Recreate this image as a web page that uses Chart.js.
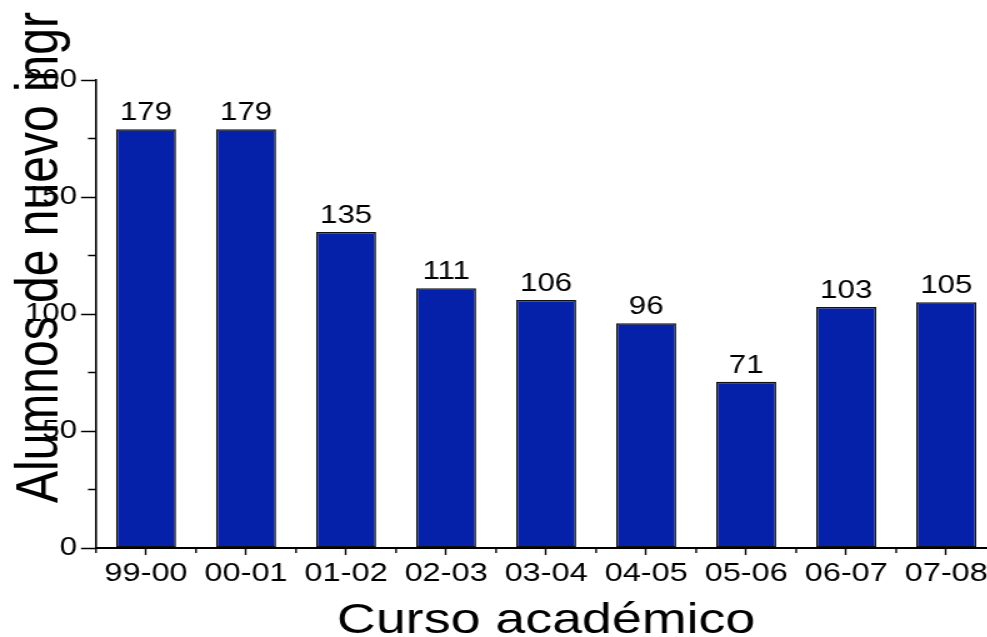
<!DOCTYPE html>
<html>
<head>
<meta charset="utf-8">
<script src="https://cdn.jsdelivr.net/npm/chart.js@4"></script>
<style>
  html, body { margin: 0; padding: 0; background: #fff; overflow: hidden; }
  #wrap { width: 797px; height: 637px; transform: scaleX(1.25); transform-origin: 0 0; }
</style>
</head>
<body>
<div id="wrap"><canvas id="chart" width="797" height="637"></canvas></div>
<script>
'use strict';

const CURSOS = ['99-00', '00-01', '01-02', '02-03', '03-04', '04-05', '05-06', '06-07', '07-08'];
const ALUMNOS = [179, 179, 135, 111, 106, 96, 71, 103, 105];
const Y_MINOR = [25, 75, 125, 175];

const FONT = '"Liberation Sans", Arial, sans-serif';

// minor ticks + value labels + y title (drawn off the library's scales/elements)
const extras = {
  id: 'extras',
  afterDraw(chart) {
    const { ctx, chartArea } = chart;
    const x = chart.scales.x, y = chart.scales.y;
    ctx.save();
    ctx.strokeStyle = '#000';
    ctx.lineWidth = 1.5;
    ctx.beginPath();
    for (const v of Y_MINOR) {
      const py = y.getPixelForValue(v);
      ctx.moveTo(chartArea.left - 6.4, py);
      ctx.lineTo(chartArea.left, py);
    }
    ctx.stroke();
    ctx.lineWidth = 1.4;
    ctx.beginPath();
    for (let i = 0; i <= CURSOS.length; i++) {
      const px = x.getPixelForValue(i - 0.5);
      ctx.moveTo(px, chartArea.bottom);
      ctx.lineTo(px, chartArea.bottom + 5);
    }
    ctx.stroke();

    ctx.fillStyle = '#000';
    ctx.font = '25px ' + FONT;
    ctx.textAlign = 'center';
    ctx.textBaseline = 'alphabetic';
    chart.getDatasetMeta(0).data.forEach((bar, i) => {
      ctx.fillText(String(ALUMNOS[i]), bar.x, bar.y - 9);
    });

    ctx.translate(45.6, chartArea.bottom - 45);
    ctx.rotate(-Math.PI / 2);
    ctx.textAlign = 'left';
    ctx.font = '48px ' + FONT;
    ctx.fillText('Alumnos de nuevo ingr', 0, 0);
    ctx.restore();
  }
};

new Chart(document.getElementById('chart'), {
  type: 'bar',
  data: {
    labels: CURSOS,
    datasets: [{
      data: ALUMNOS,
      backgroundColor: '#0520A9',
      borderColor: '#111111',
      borderWidth: 1.5,
      borderSkipped: false,
      barPercentage: 0.6,
      categoryPercentage: 1,
    }]
  },
  options: {
    responsive: false,
    animation: false,
    devicePixelRatio: 1,
    layout: { padding: { top: 80, left: 0, right: 0, bottom: 0 } },
    plugins: { legend: { display: false }, tooltip: { enabled: false } },
    scales: {
      x: {
        offset: true,
        afterFit(scale) { scale.height = 89; },
        grid: { offset: false, drawOnChartArea: false, tickLength: 7, tickColor: '#000', tickWidth: 1.4 },
        border: { color: '#000', width: 2 },
        ticks: { color: '#000', padding: 3, maxRotation: 0, autoSkip: false, font: { family: FONT, size: 26 } },
        title: {
          display: true,
          text: 'Curso académico',
          color: '#000',
          padding: 0,
          font: { family: FONT, size: 43, lineHeight: 0.75 }
        }
      },
      y: {
        min: 0,
        max: 200,
        afterFit(scale) { scale.width = 76.8; },
        grid: { drawOnChartArea: false, tickLength: 12, tickColor: '#000', tickWidth: 1.5 },
        border: { color: '#000', width: 1.6 },
        ticks: { stepSize: 50, color: '#000', padding: 3.2, font: { family: FONT, size: 25 } }
      }
    }
  },
  plugins: [extras]
});
</script>
</body>
</html>
